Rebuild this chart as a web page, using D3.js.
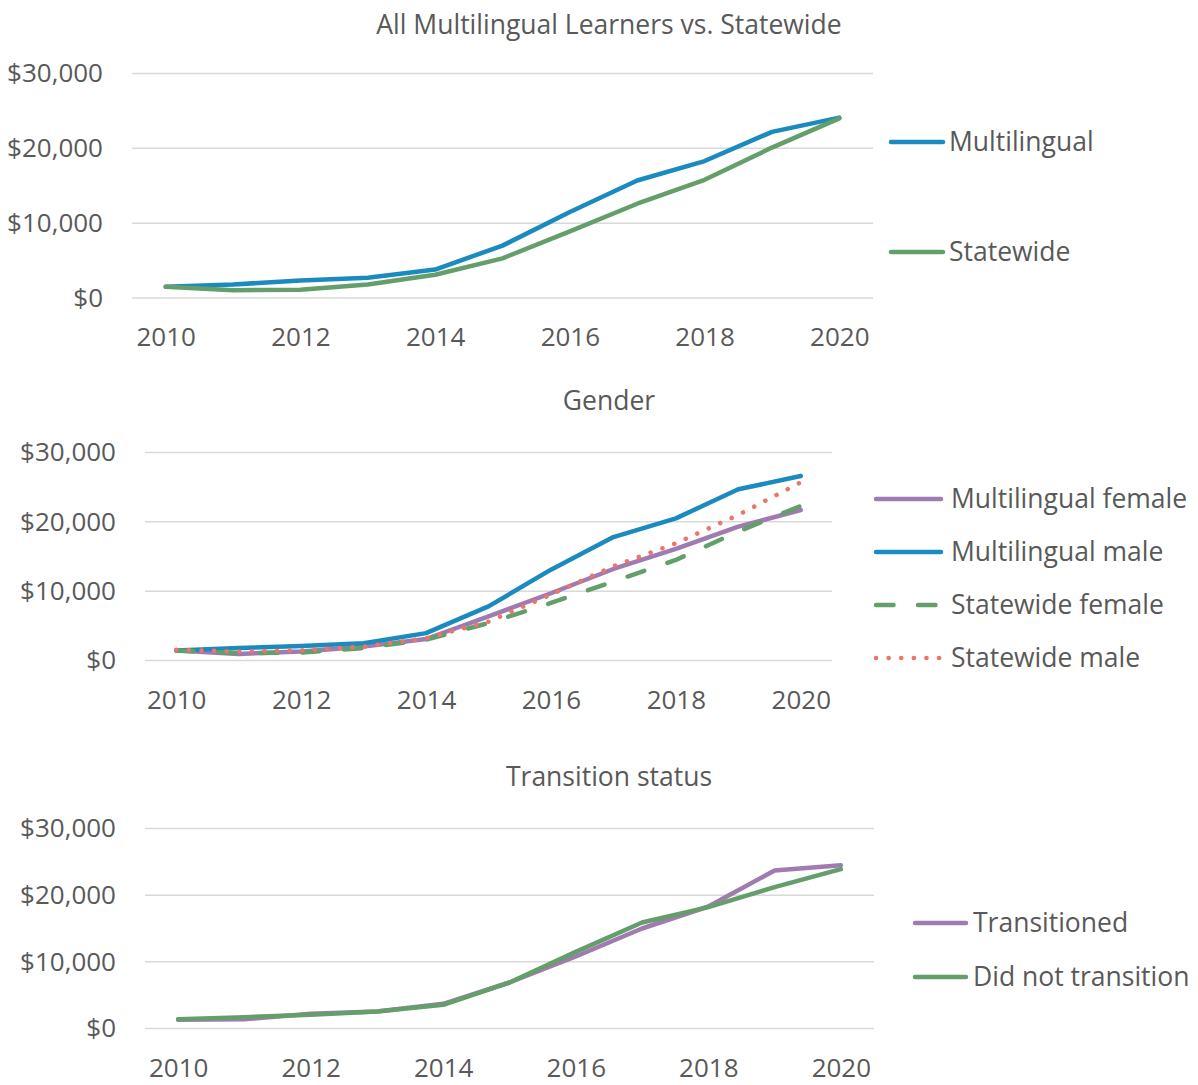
<!DOCTYPE html>
<html>
<head>
<meta charset="utf-8">
<script src="https://d3js.org/d3.v7.min.js"></script>
<style>
body { margin: 0; background: #fff; }
svg text { font-family: "Open Sans", "Noto Sans", sans-serif; fill: #595959; }
</style>
</head>
<body>
<div id="chart"></div>
<script>

// data
var years = [2010, 2011, 2012, 2013, 2014, 2015, 2016, 2017, 2018, 2019, 2020];
var tickYears = [2010, 2012, 2014, 2016, 2018, 2020];
var yTicks = [0, 10000, 20000, 30000];

var multilingualAll = [1500, 1800, 2350, 2700, 3800, 7000, 11500, 15700, 18300, 22200, 24100];
var statewideAll = [1500, 1050, 1100, 1800, 3100, 5300, 8900, 12600, 15800, 20100, 24000];

var multilingualFemale = [1450, 950, 1300, 2000, 3100, 6350, 9700, 13200, 16100, 19300, 21700];
var multilingualMale = [1450, 1800, 2100, 2500, 3950, 7800, 13100, 17800, 20500, 24700, 26600];
var statewideFemale = [1450, 1050, 1150, 1800, 3000, 5400, 8300, 11400, 14500, 18600, 22300];
var statewideMale = [1550, 1300, 1450, 2000, 3200, 5600, 9500, 13600, 16900, 21000, 25700];

var transitioned = [1300, 1400, 2200, 2550, 3700, 6900, 10800, 15000, 18300, 23700, 24500];
var didNotTransition = [1400, 1700, 2050, 2550, 3550, 6900, 11500, 15900, 18200, 21200, 23900];

var blue = "#1b8bbf", green = "#649f6b", purple = "#a07bb0", red = "#ef7468";

var panels = [
  { title: "All Multilingual Learners vs. Statewide", titleY: 34,
    x0: 132, x1: 873, yTop: 73.5, yBot: 298,
    legX: 889, legLen: 56, legText: 949, legY: [142, 252],
    series: [
      { name: "Multilingual", values: multilingualAll, color: blue, dash: null },
      { name: "Statewide", values: statewideAll, color: green, dash: null }
    ] },
  { title: "Gender", titleY: 410,
    x0: 145, x1: 832, yTop: 452.5, yBot: 660.5,
    legX: 874, legLen: 69, legText: 951, legY: [499, 552, 605, 658],
    series: [
      { name: "Multilingual female", values: multilingualFemale, color: purple, dash: null },
      { name: "Multilingual male", values: multilingualMale, color: blue, dash: null },
      { name: "Statewide female", values: statewideFemale, color: green, dash: "17.5,24.5" },
      { name: "Statewide male", values: statewideMale, color: red, dash: "0.1,12.5" }
    ] },
  { title: "Transition status", titleY: 786,
    x0: 145, x1: 874, yTop: 828.5, yBot: 1028.5,
    legX: 913, legLen: 55, legText: 973, legY: [923, 977],
    series: [
      { name: "Transitioned", values: transitioned, color: purple, dash: null },
      { name: "Did not transition", values: didNotTransition, color: green, dash: null }
    ] }
];

var svg = d3.select("#chart")
  .append("svg")
    .attr("width", 1198)
    .attr("height", 1085);

var money = d3.format("$,.0f");

panels.forEach(function(p) {
  var g = svg.append("g");

  var x = d3.scalePoint()
    .domain(years)
    .range([p.x0, p.x1])
    .padding(0.5);

  var y = d3.scaleLinear()
    .domain([0, 30000])
    .range([p.yBot, p.yTop]);

  // gridlines
  g.append("g")
    .selectAll("line")
    .data(yTicks)
    .enter()
    .append("line")
      .attr("x1", p.x0)
      .attr("x2", p.x1)
      .attr("y1", function(d) { return y(d); })
      .attr("y2", function(d) { return y(d); })
      .attr("stroke", "#d9d9d9")
      .attr("stroke-width", 1.5);

  // y axis
  var ya = g.append("g")
    .attr("transform", "translate(" + p.x0 + ",0)")
    .call(d3.axisLeft(y).tickValues(yTicks).tickSize(0).tickPadding(29).tickFormat(money));
  ya.select(".domain").remove();
  ya.selectAll("text").attr("font-size", "26px").style("font-family", null);

  // x axis
  var xa = g.append("g")
    .attr("transform", "translate(0," + p.yBot + ")")
    .call(d3.axisBottom(x).tickValues(tickYears).tickSize(0).tickPadding(30));
  xa.select(".domain").remove();
  xa.selectAll("text").attr("font-size", "26px").style("font-family", null);

  // title
  g.append("text")
    .attr("x", 609)
    .attr("y", p.titleY)
    .attr("text-anchor", "middle")
    .attr("font-size", "26.5px")
    .text(p.title);

  var line = d3.line()
    .x(function(d, i) { return x(years[i]); })
    .y(function(d) { return y(d); });

  g.selectAll("path.series")
    .data(p.series)
    .enter()
    .append("path")
      .attr("class", "series")
      .attr("d", function(s) { return line(s.values); })
      .attr("fill", "none")
      .attr("stroke", function(s) { return s.color; })
      .attr("stroke-width", 4.5)
      .attr("stroke-linecap", "round")
      .attr("stroke-linejoin", "round")
      .attr("stroke-dasharray", function(s) { return s.dash; });

  // legend
  var leg = g.selectAll("g.legend")
    .data(p.series)
    .enter()
    .append("g")
      .attr("class", "legend");

  leg.append("line")
    .attr("x1", p.legX + 2)
    .attr("x2", p.legX + p.legLen - 2)
    .attr("y1", function(d, i) { return p.legY[i]; })
    .attr("y2", function(d, i) { return p.legY[i]; })
    .attr("stroke", function(s) { return s.color; })
    .attr("stroke-width", 4.5)
    .attr("stroke-linecap", "round")
    .attr("stroke-dasharray", function(s) { return s.dash; });

  leg.append("text")
    .attr("x", p.legText)
    .attr("y", function(d, i) { return p.legY[i]; })
    .attr("dy", "0.35em")
    .attr("font-size", "26.5px")
    .text(function(s) { return s.name; });
});

</script>
</body>
</html>
